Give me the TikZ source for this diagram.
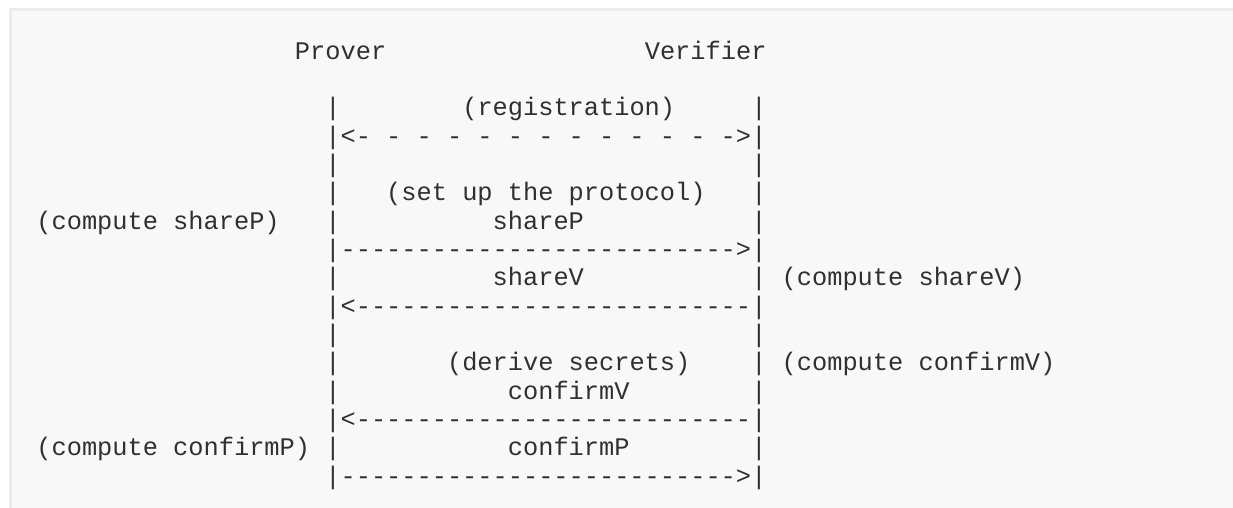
\documentclass[tikz,border=0pt]{standalone}
\usepackage{fontspec}
\setmonofont{Liberation Mono}
\definecolor{boxbg}{HTML}{F8F8F8}
\definecolor{boxline}{HTML}{ECECEC}
\definecolor{ink}{HTML}{303030}
\begin{document}
\begin{tikzpicture}[x=7.605pt,y=-14.165pt,
	txt/.style={anchor=base west,inner sep=0pt,outer sep=0pt,text=ink,font=\ttfamily\fontsize{12.67pt}{15pt}\selectfont}]
		\useasboundingbox (-2.393,-2.093) rectangle (78.67,15.838);
		% grey code block
		\fill[boxbg] (-1.689,-1.765) rectangle (78.67,15.838);
		\draw[boxline,line width=1.25pt] (-1.689,15.838)--(-1.689,-1.765)--(78.67,-1.765);
		% parties
		\node[txt] (prover) at (17,0) {Prover};
		\node[txt] (verifier) at (40,0) {Verifier};
		% the two vertical lines
		\foreach \r in {2,...,15}{
			\node[txt] (lp\r) at (19,\r) {|};
			\node[txt] (rp\r) at (47,\r) {|};
		}
		% messages
		\node[txt] (reg) at (28,2) {(registration)};
		\node[txt] (regarrow) at (20,3) {<- - - - - - - - - - - - ->};
		\node[txt] (setup) at (23,5) {(set up the protocol)};
		\node[txt] (shareP) at (30,6) {shareP};
		\node[txt] (sharePline) at (20,7) {-------------------------->};
		\node[txt] (shareV) at (30,8) {shareV};
		\node[txt] (shareVline) at (20,9) {<--------------------------};
		\node[txt] (derive) at (27,11) {(derive secrets)};
		\node[txt] (confirmV) at (31,12) {confirmV};
		\node[txt] (confirmVline) at (20,13) {<--------------------------};
		\node[txt] (confirmP) at (31,14) {confirmP};
		\node[txt] (confirmPline) at (20,15) {-------------------------->};
		% local computations
		\node[txt] (compshareP) at (0,6) {(compute shareP)};
		\node[txt] (compshareV) at (49,8) {(compute shareV)};
		\node[txt] (compconfirmV) at (49,11) {(compute confirmV)};
		\node[txt] (compconfirmP) at (0,14) {(compute confirmP)};
	\end{tikzpicture}
\end{document}
